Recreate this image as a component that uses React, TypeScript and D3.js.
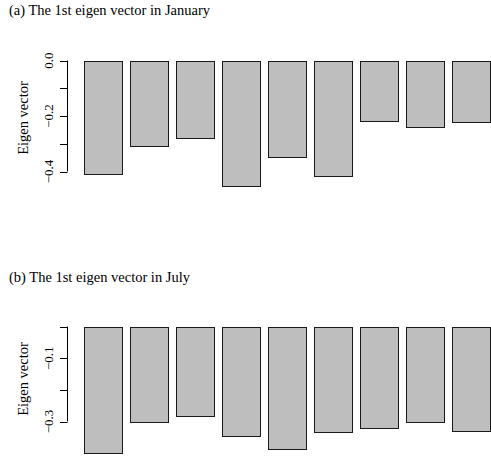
import React from "react";
import * as d3 from "d3";

const stations = ["1", "2", "3", "4", "5", "6", "7", "8", "9"];
const januaryValues = [-0.408, -0.306, -0.277, -0.45, -0.345, -0.414, -0.218, -0.238, -0.221];
const julyValues = [-0.397, -0.299, -0.28, -0.345, -0.386, -0.331, -0.318, -0.3, -0.329];
const januaryTicks = [0, -0.1, -0.2, -0.3, -0.4];
const januaryLabeled = [0, -0.2, -0.4];
const julyTicks = [0, -0.1, -0.2, -0.3];
const julyLabeled = [-0.1, -0.3];
const titles = ["(a) The 1st eigen vector in January", "(b) The 1st eigen vector in July"];
const yTitle = "Eigen vector";

const textStyle = { fontFamily: "Liberation Serif" };

function fmt(v: number) {
  const s = Math.abs(v).toFixed(1);
  return v < 0 ? "\u2212" + s : s;
}

function Panel(props: {
  values: number[];
  ticks: number[];
  labeled: number[];
  title: string;
  titleY: number;
  y0: number;
  y1: number;
  yLabelY: number;
}) {
  const { values, ticks, labeled, title, titleY, y0, y1, yLabelY } = props;
  const minTick = ticks[ticks.length - 1];
  const y = d3.scaleLinear().domain([0, minTick]).range([y0, y1]);
  const x = d3
    .scaleBand<string>()
    .domain(stations)
    .range([76, 497.7])
    .paddingInner(1 / 6)
    .paddingOuter(1 / 6);
  const axisX = 67.5;
  return (
    <g>
      <text x={9} y={titleY} style={textStyle} fontSize={14.5} fill="#000">
        {title}
      </text>
      <text
        transform={`translate(28,${yLabelY}) rotate(-90)`}
        textAnchor="middle"
        style={textStyle}
        fontSize={14.5}
        fill="#000"
      >
        {yTitle}
      </text>
      <line x1={axisX} x2={axisX} y1={y(0)} y2={y(minTick)} stroke="#000" strokeWidth={1} />
      {ticks.map((t) => (
        <line key={t} x1={axisX - 7.5} x2={axisX} y1={Math.round(y(t)) + 0.5} y2={Math.round(y(t)) + 0.5} stroke="#000" strokeWidth={1} />
      ))}
      {labeled.map((t) => (
        <text
          key={"l" + t}
          transform={`translate(53,${y(t)}) rotate(-90)`}
          textAnchor="middle"
          style={textStyle}
          fontSize={13}
          fill="#000"
        >
          {fmt(t)}
        </text>
      ))}
      {values.map((v, i) => {
        const xs = x(stations[i])!;
        const top = y(0);
        const bot = y(v);
        return (
          <rect
            key={i}
            x={Math.round(xs) + 0.5}
            y={Math.round(top) + 0.5}
            width={Math.round(x.bandwidth())}
            height={Math.round(bot - top)}
            fill="#bebebe"
            stroke="#1a1a1a"
            strokeWidth={1}
          />
        );
      })}
    </g>
  );
}

export default function App() {
  return (
    <svg
      width={491}
      height={459}
      style={{ position: "absolute", left: 0, top: 0, background: "#fff" }}
    >
      <rect width={491} height={459} fill="#fff" />
      <Panel
        values={januaryValues}
        ticks={januaryTicks}
        labeled={januaryLabeled}
        title={titles[0]}
        titleY={15}
        y0={60.5}
        y1={171.5}
        yLabelY={118}
      />
      <Panel
        values={julyValues}
        ticks={julyTicks}
        labeled={julyLabeled}
        title={titles[1]}
        titleY={281.5}
        y0={326.5}
        y1={421.5}
        yLabelY={379}
      />
    </svg>
  );
}
